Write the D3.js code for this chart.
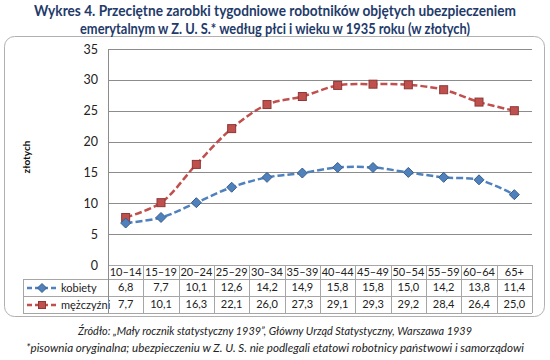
<!DOCTYPE html>
<html>
<head>
<meta charset="utf-8">
<script src="https://cdn.jsdelivr.net/npm/d3@7/dist/d3.min.js"></script>
<style>
  html, body { margin: 0; padding: 0; background: #fff; }
  svg { display: block; font-family: Lato, "Open Sans", sans-serif; }
</style>
</head>
<body>
<svg id="chart" width="550" height="360"></svg>
<script>
const categories = ["10–14","15–19","20–24","25–29","30–34","35–39","40–44","45–49","50–54","55–59","60–64","65+"];
const kobiety = [6.8, 7.7, 10.1, 12.6, 14.2, 14.9, 15.8, 15.8, 15.0, 14.2, 13.8, 11.4];
const mezczyzni = [7.7, 10.1, 16.3, 22.1, 26.0, 27.3, 29.1, 29.3, 29.2, 28.4, 26.4, 25.0];
const yTicks = [0, 5, 10, 15, 20, 25, 30, 35];
const seriesNames = ["kobiety", "mężczyźni"];
const titleLines = ["Wykres 4. Przeciętne zarobki tygodniowe robotników objętych ubezpieczeniem",
                    "emerytalnym w Z. U. S.* według płci i wieku  w 1935 roku (w złotych)"];
const yTitle = "złotych";
const notes = ["Źródło: „Mały rocznik statystyczny 1939”, Główny Urząd Statystyczny, Warszawa 1939",
               "*pisownia oryginalna; ubezpieczeniu w Z. U. S. nie podlegali etatowi robotnicy państwowi i samorządowi"];

const svg = d3.select("#chart");
const fmt = v => v.toFixed(1).replace(".", ",");

// outer rounded frame
svg.append("rect").attr("x", 4.5).attr("y", 36.5).attr("width", 540).attr("height", 280)
  .attr("rx", 10).attr("fill", "#fff").attr("stroke", "#b0b0b0").attr("stroke-width", 1);

// title
const titleW = [482, 390];
titleLines.forEach((t, i) => {
  svg.append("text").attr("x", 275).attr("y", 16 + i * 17.5).attr("text-anchor", "middle")
    .attr("font-size", 14.5).attr("font-weight", "bold").attr("fill", "#1f3b6a")
    .attr("textLength", titleW[i]).attr("lengthAdjust", "spacingAndGlyphs").text(t);
});

const plotL = 108, plotR = 532, plotT = 49, plotB = 265;
const x = d3.scaleBand().domain(categories).range([plotL, plotR]).paddingInner(0).paddingOuter(0);
const y = d3.scaleLinear().domain([0, 35]).range([plotB, plotT]);

// gridlines
svg.append("g").selectAll("line").data(yTicks.filter(d => d > 0)).join("line")
  .attr("x1", plotL).attr("x2", plotR)
  .attr("y1", d => Math.round(y(d)) + 0.5).attr("y2", d => Math.round(y(d)) + 0.5)
  .attr("stroke", "#8c8c8c").attr("stroke-width", 1);

// y axis labels
const yAxis = svg.append("g").attr("transform", `translate(${plotL - 10},0)`)
  .call(d3.axisLeft(y).tickValues(yTicks).tickSize(0).tickPadding(0));
yAxis.select(".domain").remove();
yAxis.selectAll("text").attr("font-size", 12.5).attr("fill", "#222")
  .attr("font-family", "Lato, sans-serif");

// y title
svg.append("text").attr("transform", "translate(30,157) rotate(-90)").attr("text-anchor", "middle")
  .attr("font-size", 10).attr("font-weight", "bold").attr("fill", "#111").text(yTitle);

// table
const rowTop = [265, 279, 296], rowBot = 313, legL = 23;
const tg = svg.append("g");
const tblStroke = "#a6a6a6";
// horizontal lines
tg.append("line").attr("x1", plotL).attr("x2", plotR).attr("y1", rowTop[0] + 0.5).attr("y2", rowTop[0] + 0.5).attr("stroke", tblStroke);
[rowTop[1], rowTop[2], rowBot].forEach(yy => {
  tg.append("line").attr("x1", legL).attr("x2", plotR).attr("y1", yy + 0.5).attr("y2", yy + 0.5).attr("stroke", tblStroke);
});
// vertical lines
categories.forEach((c, i) => {
  tg.append("line").attr("x1", Math.round(x(c)) + 0.5).attr("x2", Math.round(x(c)) + 0.5)
    .attr("y1", rowTop[0]).attr("y2", rowBot).attr("stroke", tblStroke);
});
tg.append("line").attr("x1", plotR + 0.5).attr("x2", plotR + 0.5).attr("y1", rowTop[0]).attr("y2", rowBot).attr("stroke", tblStroke);
tg.append("line").attr("x1", legL + 0.5).attr("x2", legL + 0.5).attr("y1", rowTop[1]).attr("y2", rowBot).attr("stroke", tblStroke);
// y axis line
svg.append("line").attr("x1", plotL + 0.5).attr("x2", plotL + 0.5).attr("y1", plotT).attr("y2", rowBot)
  .attr("stroke", "#8c8c8c");

// header labels
tg.selectAll("text.cat").data(categories).join("text").attr("class", "cat")
  .attr("x", d => x(d) + x.bandwidth() / 2).attr("y", 276).attr("text-anchor", "middle")
  .attr("font-size", 11).attr("fill", "#222").text(d => d);

const series = [
  { name: seriesNames[0], values: kobiety, color: "#4f81bd", dark: "#385d8a", shape: "diamond" },
  { name: seriesNames[1], values: mezczyzni, color: "#c0504d", dark: "#8c3836", shape: "square" }
];

function marker(g, shape, cx, cy, s, col, dark) {
  if (shape === "diamond") {
    const r = s / 2 + 1;
    g.append("path").attr("d", `M${cx},${cy - r}L${cx + r},${cy}L${cx},${cy + r}L${cx - r},${cy}Z`)
      .attr("fill", col).attr("stroke", dark).attr("stroke-width", 1);
  } else {
    g.append("rect").attr("x", cx - s / 2).attr("y", cy - s / 2).attr("width", s).attr("height", s)
      .attr("fill", col).attr("stroke", dark).attr("stroke-width", 1);
  }
}

series.forEach((s, si) => {
  const rowY = si === 0 ? 291 : 308;
  // values in table
  tg.selectAll(null).data(s.values).join("text")
    .attr("x", (d, i) => x(categories[i]) + x.bandwidth() / 2).attr("y", rowY).attr("text-anchor", "middle")
    .attr("font-size", 11).attr("fill", "#222").text(d => fmt(d));
  // legend
  const ly = si === 0 ? 288 : 305;
  tg.append("line").attr("x1", 27).attr("x2", 57).attr("y1", ly).attr("y2", ly)
    .attr("stroke", s.color).attr("stroke-width", 2.5).attr("stroke-dasharray", "5,3");
  marker(tg, s.shape, 42, ly, 7, s.color, s.dark);
  tg.append("text").attr("x", 61).attr("y", ly + 4).attr("font-size", 11).attr("fill", "#222").text(s.name);
});

// lines + markers (draw men first then women on top? reference: women diamonds on top at first point)
const line = d3.line().x((d, i) => x(categories[i]) + x.bandwidth() / 2).y(d => y(d)).curve(d3.curveCatmullRom.alpha(0.5));
[series[1], series[0]].forEach(s => {
  svg.append("path").datum(s.values).attr("d", line).attr("fill", "none")
    .attr("stroke", s.color).attr("stroke-width", 2.5).attr("stroke-dasharray", "7,3");
});
[series[1], series[0]].forEach(s => {
  const g = svg.append("g");
  s.values.forEach((v, i) => {
    marker(g, s.shape, x(categories[i]) + x.bandwidth() / 2, y(v), 8, s.color, s.dark);
  });
});

// notes
const noteW = [394, 498];
notes.forEach((t, i) => {
  svg.append("text").attr("x", 275).attr("y", 335 + i * 17).attr("text-anchor", "middle")
    .attr("font-size", 11.5).attr("font-style", "italic").attr("fill", "#222")
    .attr("textLength", noteW[i]).attr("lengthAdjust", "spacingAndGlyphs").text(t);
});
</script>
</body>
</html>
